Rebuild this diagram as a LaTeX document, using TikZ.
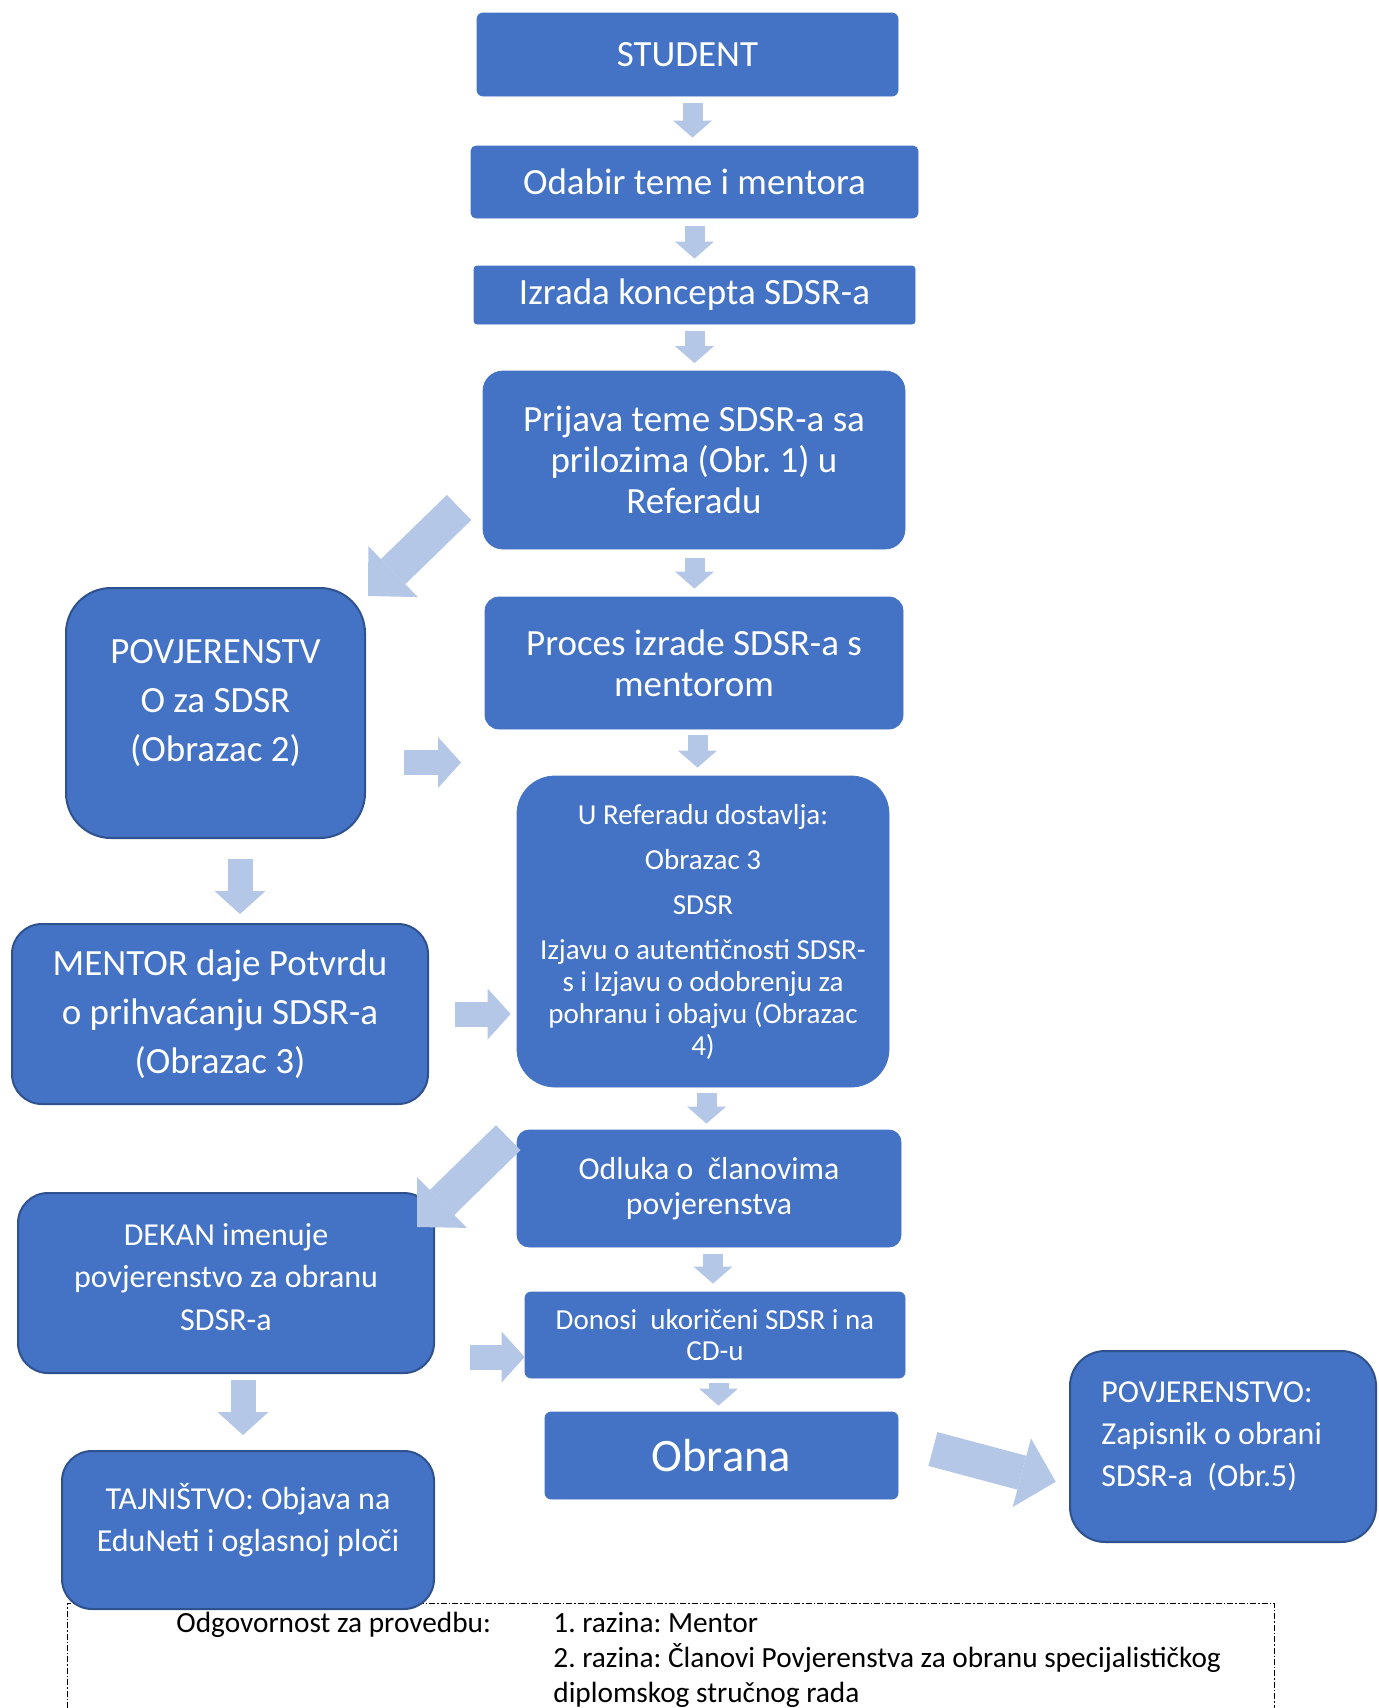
\documentclass[tikz,border=0pt]{standalone}
\usepackage{fontspec}
\setmainfont{Carlito}
\frenchspacing
\usetikzlibrary{arrows.meta,calc}
\definecolor{boxblue}{HTML}{4472C4}
\definecolor{boxedge}{HTML}{2F528F}
\definecolor{arrowblue}{HTML}{B4C7E7}
\begin{document}
\begin{tikzpicture}[x=0.5pt,y=-0.5pt,
  box/.style={fill=boxblue, draw=boxedge, line width=1pt, text=white, align=center, inner sep=0pt},
  flatbox/.style={box, draw=boxblue, line width=0.4pt},
  wh/.style 2 args={minimum width=#1*0.5pt, minimum height=#2*0.5pt},
  rc/.style={rounded corners=#1*0.5pt},
  wtext/.style={text=white, align=center, inner sep=0pt},
  fbig/.style={font=\fontsize{18.5}{20.5}\selectfont},
  smallarrow/.style={draw=arrowblue, line width=10pt, -{Triangle[width=19.5pt, length=8.5pt, line width=0pt]}},
  midarrow/.style={draw=arrowblue, line width=12.5pt, -{Triangle[width=25.5pt, length=11.5pt, line width=0pt]}},
  bigarrow/.style={draw=arrowblue, line width=17.5pt, -{Triangle[width=35.5pt, length=17.5pt, line width=0pt]}},
  frameline/.style={draw=black, line width=0.5pt, dash pattern=on 3pt off 1pt on 0.7pt off 1pt},
  blacktext/.style={inner sep=0pt, font=\fontsize{14.65}{17.5}\selectfont}
]
\useasboundingbox (0,0) rectangle (1378,1708);

% dotted frame of the responsibility note
\draw[frameline] (67,1708) -- (67,1603) -- (1274,1603) -- (1274,1708);

% boxes
\node[flatbox, wh={421}{83}, rc=6, fbig] (student) at (687.5,54.5) {STUDENT};
\node[flatbox, wh={447}{72}, rc=5, fbig] (odabir) at (694.5,182) {Odabir teme i mentora};
\node[flatbox, wh={441}{58}, rc=3, fbig] (izrada) at (694.5,295) {Izrada koncepta SDSR-a};
\node[flatbox, wh={422}{178}, rc=20, fbig] (prijava) at (694,460) {Prijava teme SDSR-a sa\\prilozima (Obr. 1) u\\Referadu};
\node[flatbox, wh={418}{132}, rc=14, fbig] (proces) at (694,663) {Proces izrade SDSR-a s\\mentorom};

\node[box, wh={299}{250}, rc=45] (povj) at (215.5,713) {};
\node[wtext, font=\fontsize{18.5}{24.5}\selectfont] (povjtext) at (215.5,703) {POVJERENSTV\\O za SDSR\\(Obrazac 2)};

\node[flatbox, wh={372}{311}, rc=38, font=\fontsize{14.5}{16}\selectfont] (uref) at (703,931.5)
  {U Referadu dostavlja:\\[6.5pt]Obrazac 3\\[6.5pt]SDSR\\[6.5pt]Izjavu o autentičnosti SDSR-\\s i Izjavu o odobrenju za\\pohranu i obajvu (Obrazac\\4)};

\node[box, wh={416}{180}, rc=30, font=\fontsize{18.5}{24.5}\selectfont] (mentor) at (220,1014) {MENTOR daje Potvrdu\\o prihvaćanju SDSR-a\\(Obrazac 3)};

\node[flatbox, wh={384}{117}, rc=12, font=\fontsize{15.9}{17.5}\selectfont] (odluka) at (709,1188.5) {Odluka o\ \ članovima\\povjerenstva};

\node[box, wh={416}{180}, rc=30] (dekan) at (226,1283) {};
\node[wtext, font=\fontsize{16}{21.25}\selectfont] (dekantext) at (226,1277) {DEKAN imenuje\\povjerenstvo za obranu\\SDSR-a};

\node[flatbox, wh={380}{86}, rc=6, font=\fontsize{14.5}{15.8}\selectfont] (donosi) at (715,1335) {Donosi\ \ ukoričeni SDSR i na\\CD-u};
\node[flatbox, wh={353}{87}, rc=6, font=\fontsize{23.25}{26}\selectfont] (obrana) at (721.5,1455.5) {Obrana};

\node[box, wh={306}{191}, rc=35] (povj2) at (1223,1446.5) {};
\node[wtext, align=left, anchor=west, font=\fontsize{16}{21}\selectfont] (povj2text) at (1101,1436) {POVJERENSTVO:\\Zapisnik o obrani\\SDSR-a\ \ (Obr.5)};

\node[box, wh={372}{158}, rc=30] (tajn) at (248,1530) {};
\node[wtext, font=\fontsize{16}{21.25}\selectfont] (tajntext) at (248,1520) {TAJNIŠTVO: Objava na\\EduNeti i oglasnoj ploči};

% responsibility note
\node[blacktext, anchor=base west] (odg) at (176,1632) {Odgovornost za provedbu:};
\node[blacktext, anchor=base west] (raz1) at (553,1632) {1. razina: Mentor};
\node[blacktext, anchor=base west] (raz2) at (553,1667) {2. razina: Članovi Povjerenstva za obranu specijalističkog};
\node[blacktext, anchor=base west] (raz3) at (553,1702) {diplomskog stručnog rada};

% small vertical arrows
\draw[smallarrow] ($(student.south)+(5,7)$) -- ($(odabir.north)+(-2,-8)$);
\draw[smallarrow] ($(odabir.south)+(0,8)$) -- ($(izrada.north)+(0,-7)$);
\draw[smallarrow] ($(izrada.south)+(0,7)$) -- ($(prijava.north)+(0.5,-7.5)$);
\draw[smallarrow] ($(prijava.south)+(0.5,9)$) -- ($(proces.north)+(0.5,-8)$);
\draw[smallarrow] ($(proces.south)+(3.5,6)$) -- ($(uref.north)+(-5.5,-8)$);
\draw[smallarrow] ($(uref.south)+(3.5,6)$) -- ($(odluka.north)+(-2.5,-6)$);
\draw[smallarrow] ($(odluka.south)+(4,7)$) -- ($(donosi.north)+(-2,-8)$);
\draw[smallarrow] ($(donosi.south)+(3.5,5)$) -- ($(obrana.north)+(-3,-6)$);

% medium arrows
\draw[midarrow] ($(povj.east)+(38,49.5)$) -- ($(povj.east)+(95,49.5)$);
\draw[midarrow] ($(povj.south)+(24.5,20)$) -- ($(mentor.north)+(20,-9)$);
\draw[midarrow] ($(mentor.east)+(26,0)$) -- ($(uref.west|-mentor.east)+(-6,0)$);
\draw[midarrow] ($(dekan.east)+(35,74)$) -- ($(donosi.west)+(0,22)$);
\draw[midarrow] ($(dekan.south)+(17,6)$) -- ($(tajn.north)+(-5,-15)$);

% large diagonal arrows
\draw[bigarrow] ($(prijava.west)+(-23.5,47.5)$) -- ($(povj.north east)+(2,9)$);
\draw[bigarrow] ($(odluka.north west)+(-8.3,8)$) -- ($(dekan.north east)+(-18,35)$);
\draw[bigarrow] ($(obrana.east)+(34.5,-6.5)$) -- ($(povj2.west)+(-13.3,35.2)$);
\end{tikzpicture}
\end{document}
